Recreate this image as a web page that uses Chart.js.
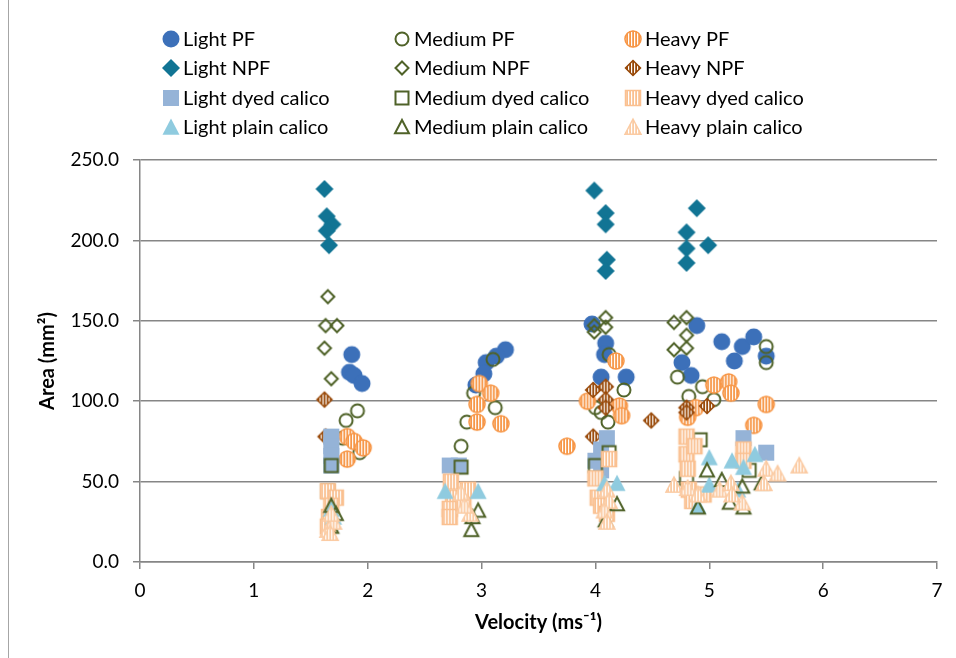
<!DOCTYPE html>
<html>
<head>
<meta charset="utf-8">
<script src="https://cdn.jsdelivr.net/npm/chart.js@4/dist/chart.umd.min.js"></script>
<style>
  html, body { margin: 0; background: #fff; }
  #wrap { width: 956px; height: 658px; }
</style>
</head>
<body>
<div id="wrap"><canvas id="chart" width="956" height="658"></canvas></div>
<script>
// series names, in the order they appear in the legend (row by row)
const seriesNames = [
  "Light PF", "Medium PF", "Heavy PF",
  "Light NPF", "Medium NPF", "Heavy NPF",
  "Light dyed calico", "Medium dyed calico", "Heavy dyed calico",
  "Light plain calico", "Medium plain calico", "Heavy plain calico",
];

// [velocity, area]
const lightPF = [[1.86,129],[1.84,118],[1.88,116],[1.95,111],[3.21,132],[3.13,128],[3.04,124],[3.02,117],[2.95,110],
  [3.97,148],[4.09,136],[4.08,129],[4.05,115],[4.27,115],[4.89,147],[5.11,137],[5.22,125],[5.29,134],[5.39,140],[5.5,128],[4.76,124],[4.84,116]];
const mediumPF = [[1.91,94],[1.81,88],[1.78,77],[1.93,68],[3.1,126],[2.93,105],[3.12,96],[2.87,87],[2.82,72],
  [4.12,129],[4.25,107],[4.0,96],[4.05,93],[4.11,87],[5.5,134],[5.5,124],[4.72,115],[4.94,109],[5.04,101],[4.82,103]];
const heavyPF = [[1.82,78],[1.88,75],[1.96,71],[1.82,64],[2.98,111],[3.08,105],[2.96,98],[2.96,87],[3.17,86],
  [4.18,125],[3.93,100],[4.21,97],[4.23,91],[3.75,72],[5.04,110],[5.17,112],[5.19,105],[4.88,96],[4.81,90],[5.5,98],[5.39,85]];
const lightNPF = [[1.62,232],[1.64,215],[1.69,210],[1.64,206],[1.66,197],[3.99,231],[4.09,217],[4.09,210],[4.1,188],[4.09,181],
  [4.89,220],[4.8,205],[4.99,197],[4.8,195],[4.8,186]];
const mediumNPF = [[1.65,165],[1.63,147],[1.73,147],[1.62,133],[1.68,114],[3.99,147],[4.09,152],[4.09,146],[3.99,143],
  [4.69,149],[4.8,152],[4.8,141],[4.69,132],[4.8,133]];
const heavyNPF = [[1.62,101],[1.63,78],[3.98,107],[4.09,109],[4.09,101],[4.09,96],[3.98,78],[4.49,88],[4.8,96],[4.8,93],[4.98,97]];
const lightDyed = [[1.68,78],[1.68,72],[1.68,66],[1.68,60],[2.72,60],[2.8,60],[4.1,77],[4.05,70],[4.0,63],[4.05,57],[5.3,77],[5.5,68]];
const mediumDyed = [[1.65,44],[1.68,60],[2.82,59],[4.12,68],[4.0,60],[4.92,76],[4.8,52],[5.35,57]];
const heavyDyed = [[1.65,44],[1.72,40],[1.68,35],[1.66,28],[1.65,22],[2.73,50],[2.75,40],[2.72,33],[2.72,28],[2.84,37],[2.88,45],
  [4.12,64],[4.0,52],[4.02,40],[4.05,35],[4.1,30],[4.8,78],[4.8,67],[4.87,72],[4.81,58],[4.82,45],[4.85,38],[5.3,70],[5.3,63],[4.95,42]];
const lightPlain = [[1.68,33],[1.7,28],[2.68,44],[2.97,44],[4.08,49],[4.19,49],[5.0,65],[5.2,63],[5.4,67],[5.3,59],[5.0,48],[4.9,35],[5.25,45]];
const mediumPlain = [[1.68,22],[1.72,30],[1.68,35],[2.91,20],[2.97,32],[2.92,28],[4.19,36],[4.09,26],[4.98,57],[4.9,34],
  [5.11,51],[5.29,47],[5.46,49],[5.18,37],[5.3,34]];
const heavyPlain = [[1.65,20],[1.7,25],[1.67,18],[1.68,30],[2.82,43],[2.9,30],[2.85,35],[4.1,45],[4.12,38],[4.08,32],[4.1,25],
  [4.69,48],[4.81,46],[4.9,42],[5.09,45],[5.19,49],[5.29,37],[5.5,58],[5.6,55],[5.79,60],[5.48,49],[5.2,42]];

const seriesData = [lightPF, mediumPF, heavyPF, lightNPF, mediumNPF, heavyNPF,
  lightDyed, mediumDyed, heavyDyed, lightPlain, mediumPlain, heavyPlain];

const xTicks = [0, 1, 2, 3, 4, 5, 6, 7];
const yTicks = [0, 50, 100, 150, 200, 250];

const OLIVE = "#4F6228";

// marker look for each series
const markerSpecs = [
  { shape: "circle", fill: "solid", color: "#3C70B9", size: 17 },
  { shape: "circle", fill: "open", color: OLIVE, size: 15 },
  { shape: "circle", fill: "stripe", color: "#F79646", size: 17 },
  { shape: "diamond", fill: "solid", color: "#117494", size: 18 },
  { shape: "diamond", fill: "open", color: OLIVE, size: 15 },
  { shape: "diamond", fill: "stripe", color: "#984807", size: 16 },
  { shape: "square", fill: "solid", color: "#95B3D7", size: 16 },
  { shape: "square", fill: "open", color: OLIVE, size: 15 },
  { shape: "square", fill: "stripe", color: "#FAC090", size: 16 },
  { shape: "triangle", fill: "solid", color: "#8FCBDF", size: 17 },
  { shape: "triangle", fill: "open", color: OLIVE, size: 16 },
  { shape: "triangle", fill: "stripe", color: "#FBCBA3", size: 17 },
];

function shapePath(ctx, shape, c, s) {
  const h = s / 2;
  ctx.beginPath();
  if (shape === "circle") {
    ctx.arc(c, c, h, 0, Math.PI * 2);
  } else if (shape === "diamond") {
    ctx.moveTo(c, c - h); ctx.lineTo(c + h, c); ctx.lineTo(c, c + h); ctx.lineTo(c - h, c);
  } else if (shape === "square") {
    ctx.rect(c - h, c - h, s, s);
  } else {
    ctx.moveTo(c, c - h); ctx.lineTo(c + h, c + h * 0.9); ctx.lineTo(c - h, c + h * 0.9);
  }
  ctx.closePath();
}

function makeMarker(spec) {
  const dim = 24;
  const cv = document.createElement("canvas");
  cv.width = dim; cv.height = dim;
  const ctx = cv.getContext("2d");
  const c = dim / 2;
  if (spec.fill === "open") {
    shapePath(ctx, spec.shape, c, spec.size - 2);
    ctx.strokeStyle = spec.color; ctx.lineWidth = 2; ctx.stroke();
  } else if (spec.fill === "solid") {
    shapePath(ctx, spec.shape, c, spec.size);
    ctx.fillStyle = spec.color; ctx.fill();
  } else {
    shapePath(ctx, spec.shape, c, spec.size);
    ctx.save();
    ctx.clip();
    ctx.fillStyle = spec.color; ctx.fill();
    ctx.fillStyle = "#fff";
    for (let x = 1; x < dim; x += 3) ctx.fillRect(x, 0, 1.2, dim);
    ctx.restore();
    shapePath(ctx, spec.shape, c, spec.size - 1);
    ctx.strokeStyle = spec.color; ctx.lineWidth = 1.5; ctx.stroke();
  }
  return cv;
}

const markers = markerSpecs.map(makeMarker);

const datasets = seriesNames.map((name, i) => ({
  label: name,
  data: seriesData[i].map(([x, y]) => ({ x, y })),
  pointStyle: markers[i],
  pointRadius: 8,
  order: seriesNames.length - i,
}));

// legend drawn in three fixed columns, like the original
const legendCols = [171, 402, 633];
const legendRows = [39, 68, 98, 127];

const sideLegend = {
  id: "sideLegend",
  afterDraw(chart) {
    const ctx = chart.ctx;
    ctx.save();
    ctx.strokeStyle = "#a6a6a6";
    ctx.lineWidth = 1;
    ctx.beginPath(); ctx.moveTo(8.5, 0); ctx.lineTo(8.5, 658); ctx.stroke();
    ctx.font = "20px Lato";
    ctx.fillStyle = "#000";
    ctx.textBaseline = "middle";
    seriesNames.forEach((name, i) => {
      const x = legendCols[i % 3];
      const y = legendRows[Math.floor(i / 3)];
      ctx.drawImage(markers[i], x - 12, y - 12);
      ctx.fillText(name, x + 12, y + 1);
    });
    ctx.restore();
  },
};

new Chart(document.getElementById("chart"), {
  type: "scatter",
  data: { datasets },
  plugins: [sideLegend],
  options: {
    responsive: false,
    animation: false,
    events: [],
    layout: { padding: { top: 160, right: 19, left: 0, bottom: 0 } },
    plugins: { legend: { display: false }, tooltip: { enabled: false } },
    scales: {
      x: {
        type: "linear",
        min: xTicks[0],
        max: xTicks[xTicks.length - 1],
        afterFit: (s) => { s.height = 96; },
        afterBuildTicks: (s) => { s.ticks = xTicks.map((v) => ({ value: v })); },
        ticks: { color: "#000", font: { family: "Lato", size: 19 }, padding: 10 },
        grid: { drawOnChartArea: false, drawTicks: true, tickLength: 7, color: "#868686", lineWidth: 1.5 },
        border: { display: true, color: "#868686", width: 1.5 },
        title: {
          display: true,
          text: "Velocity (ms⁻¹)",
          color: "#000",
          font: { family: "Lato", size: 20, weight: "bold" },
          padding: { bottom: 23 },
        },
      },
      y: {
        min: yTicks[0],
        max: yTicks[yTicks.length - 1],
        afterFit: (s) => { s.width = 140; },
        afterBuildTicks: (s) => { s.ticks = yTicks.map((v) => ({ value: v })); },
        ticks: { color: "#000", font: { family: "Lato", size: 19 }, padding: 14, callback: (v) => v.toFixed(1) },
        grid: { color: "#868686", lineWidth: 1.5, tickLength: 7 },
        border: { display: true, color: "#868686", width: 1.5 },
        title: {
          display: true,
          text: "Area (mm²)",
          color: "#000",
          font: { family: "Lato", size: 20, weight: "bold" },
          padding: { top: 36 },
        },
      },
    },
  },
});
</script>
</body>
</html>
